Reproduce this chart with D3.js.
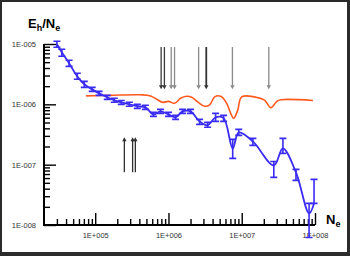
<!DOCTYPE html>
<html>
<head>
<meta charset="utf-8">
<script src="https://cdn.jsdelivr.net/npm/d3@7"></script>
<style>
  body { margin: 0; background: #fff; }
  .tick text { font-family: "Liberation Sans", Arial, sans-serif; font-size: 7.5px; fill: #333; }
</style>
</head>
<body>
<div id="chart"></div>
<script>
// ***** DATA *****
var blueN  = [3.0e4, 3.5e4, 4.4e4, 5.7e4, 7.1e4, 9.1e4, 1.13e5, 1.46e5, 1.82e5, 2.27e5, 2.92e5,
              3.76e5, 4.84e5, 6.23e5, 7.77e5, 1.0e6, 1.25e6, 1.56e6, 2.0e6, 2.66e6, 3.42e6,
              4.4e6, 5.66e6, 7.53e6, 9.1e6, 1.42e7, 2.74e7, 3.65e7, 5.5e7, 8.3e7, 9.7e7];
var blueE  = [9.9e-6, 7.3e-6, 4.8e-6, 2.9e-6, 2.15e-6, 1.77e-6, 1.52e-6, 1.31e-6, 1.16e-6, 1.08e-6, 1.0e-6,
              9.3e-7, 8.9e-7, 6.8e-7, 7.65e-7, 6.8e-7, 6.1e-7, 7.65e-7, 7.65e-7, 5.2e-7, 4.5e-7,
              6.1e-7, 5.9e-7, 1.86e-7, 3.43e-7, 2.43e-7, 9.7e-8, 1.86e-7, 7.45e-8, 1.56e-8, 2.28e-8];
var blueHi = [1.11e-5, 8.17e-6, 5.37e-6, 3.27e-6, 2.4e-6, 1.91e-6, 1.64e-6, 1.41e-6, 1.26e-6, 1.16e-6, 1.08e-6,
              1.0e-6, 9.63e-7, 7.37e-7, 8.26e-7, 7.37e-7, 6.57e-7, 8.26e-7, 8.26e-7, 5.64e-7, 5.03e-7,
              7.09e-7, 6.57e-7, 2.63e-7, 3.85e-7, 2.73e-7, 1.13e-7, 2.73e-7, 8.35e-8, 2.28e-8, 5.71e-8];
var blueLo = [8.81e-6, 6.25e-6, 4.26e-6, 2.6e-6, 1.91e-6, 1.64e-6, 1.41e-6, 1.21e-6, 1.08e-6, 1.0e-6, 9.27e-7,
              8.58e-7, 8.26e-7, 6.32e-7, 7.09e-7, 6.32e-7, 5.64e-7, 7.09e-7, 7.09e-7, 4.66e-7, 4.16e-7,
              5.22e-7, 5.22e-7, 1.27e-7, 3.06e-7, 2.09e-7, 6.16e-8, 1.54e-7, 5.49e-8, 6.2e-9, 2.28e-8];

var orangeN = [7.5e4, 1.6e5, 4.1e5, 5.7e5, 7.1e5, 8.3e5, 1.0e6, 1.21e6, 1.46e6, 1.76e6, 2.07e6, 2.5e6,
               3.11e6, 3.65e6, 4.27e6, 5.15e6, 6.23e6, 7.07e6, 7.77e6, 8.8e6, 1.0e7, 1.71e7,
               2.07e7, 2.5e7, 3.01e7, 3.42e7, 9.4e7];
var orangeE = [1.38e-6, 1.41e-6, 1.44e-6, 1.38e-6, 1.19e-6, 1.08e-6, 1.12e-6, 1.04e-6, 1.26e-6, 1.36e-6, 1.31e-6, 1.1e-6,
               9.3e-7, 9.8e-7, 1.33e-6, 1.36e-6, 1.04e-6, 7.1e-7, 5.86e-7, 7.95e-7, 1.33e-6, 1.28e-6,
               1.16e-6, 8.75e-7, 1.12e-6, 1.19e-6, 1.16e-6];

var downArrowN    = [7.94e5, 8.8e5, 1.09e6, 1.21e6, 2.58e6, 3.28e6, 7.46e6, 2.34e7];
var downArrowKind = ["dark", "dark", "light", "light", "light", "bold", "light", "light"];
var downArrowE    = [8.9e-6, 1.77e-6];   // tail, tip
var upArrowN      = [2.5e5, 3.24e5, 3.53e5];
var upArrowE      = [7.5e-8, 2.84e-7];   // tail, tip

var xMajor = [1e5, 1e6, 1e7, 1e8];
var xTickLabels = ["1E+005", "1E+006", "1E+007", "1E+008"];
var yMajor = [1e-8, 1e-7, 1e-6, 1e-5];
var yTickLabels = ["1E-008", "1E-007", "1E-006", "1E-005"];

// ***** CHART *****
var width = 350, height = 256;

var svg = d3.select("#chart").append("svg")
    .attr("width", width)
    .attr("height", height);

// dark frame round the white panel
svg.append("rect").attr("width", width).attr("height", height).attr("fill", "#2b2b2b");
svg.append("rect").attr("x", 2).attr("y", 2).attr("width", width - 5).attr("height", height - 6).attr("fill", "#fff");

var x = d3.scaleLog().domain([2e4, 1e8]).range([44, 315]);
var y = d3.scaleLog().domain([1e-8, 1e-5]).range([225, 44]);

// minor tick values: 2..9 in every decade
var xMinor = [], yMinor = [];
[1e4, 1e5, 1e6, 1e7].forEach(function(d) {
    for (var k = 2; k <= 9; k++) if (d * k > 2e4) xMinor.push(d * k);
});
[1e-8, 1e-7, 1e-6].forEach(function(d) {
    for (var k = 2; k <= 9; k++) yMinor.push(d * k);
});

// Y axis
svg.append("g")
    .attr("transform", "translate(44,0)")
    .call(d3.axisLeft(y).tickValues(yMinor).tickSize(-6).tickFormat(""))
    .call(function(g) { g.select(".domain").remove(); g.selectAll("line").attr("stroke", "#000").attr("stroke-width", 1.4); });

svg.append("g")
    .attr("transform", "translate(44,0)")
    .call(d3.axisLeft(y).tickValues(yMajor).tickSize(-12).tickPadding(8)
        .tickFormat(function(d, i) { return yTickLabels[i]; }))
    .call(function(g) {
        g.select(".domain").remove();
        g.selectAll("line").attr("stroke", "#000").attr("stroke-width", 1.4);
    });

// X axis
svg.append("g")
    .attr("transform", "translate(0,225)")
    .call(d3.axisBottom(x).tickValues(xMinor).tickSize(-6).tickFormat(""))
    .call(function(g) { g.select(".domain").remove(); g.selectAll("line").attr("stroke", "#000").attr("stroke-width", 1.4); });

svg.append("g")
    .attr("transform", "translate(0,225)")
    .call(d3.axisBottom(x).tickValues(xMajor).tickSize(-12).tickPadding(8)
        .tickFormat(function(d, i) { return xTickLabels[i]; }))
    .call(function(g) {
        g.select(".domain").remove();
        g.selectAll("line").attr("stroke", "#000").attr("stroke-width", 1.4);
    });

// axis lines
svg.append("path")
    .attr("d", "M" + x(2e4) + "," + y(1e-5) + "V" + y(1e-8) + "H" + x(1e8))
    .attr("fill", "none")
    .attr("stroke", "#000")
    .attr("stroke-width", 2);

// axis titles
var yTitle = svg.append("text")
    .attr("x", 28).attr("y", 28)
    .style("font-family", "Liberation Sans, Arial, sans-serif")
    .style("font-weight", "bold")
    .style("font-size", "13px");
yTitle.append("tspan").text("E");
yTitle.append("tspan").attr("dy", 3).style("font-size", "9px").text("h");
yTitle.append("tspan").attr("dy", -3).text("/N");
yTitle.append("tspan").attr("dy", 3).style("font-size", "9px").text("e");

var xTitle = svg.append("text")
    .attr("x", 326).attr("y", 224)
    .style("font-family", "Liberation Sans, Arial, sans-serif")
    .style("font-weight", "bold")
    .style("font-size", "13px");
xTitle.append("tspan").text("N");
xTitle.append("tspan").attr("dy", 3).style("font-size", "9px").text("e");

// orange line
var orange = orangeN.map(function(d, i) { return { n: d, e: orangeE[i] }; });
var line = d3.line()
    .x(function(d) { return x(d.n); })
    .y(function(d) { return y(d.e); })
    .curve(d3.curveCatmullRom.alpha(0.5));

svg.append("path")
    .datum(orange)
    .attr("d", line)
    .attr("fill", "none")
    .attr("stroke", "#ff5a1e")
    .attr("stroke-width", 1.6);

// blue line with error bars
var blue = blueN.map(function(d, i) { return { n: d, e: blueE[i], hi: blueHi[i], lo: blueLo[i] }; });
var blueColor = "#3b2cf2";

svg.append("path")
    .datum(blue)
    .attr("d", line)
    .attr("fill", "none")
    .attr("stroke", blueColor)
    .attr("stroke-width", 1.8);

var err = svg.selectAll(".err")
    .data(blue)
    .enter()
    .append("path")
    .attr("class", "err")
    .attr("d", function(d) {
        var cx = x(d.n), t = y(d.hi), b = y(d.lo);
        return "M" + (cx - 3.5) + "," + t + "H" + (cx + 3.5) +
               "M" + cx + "," + t + "V" + b +
               "M" + (cx - 3.5) + "," + b + "H" + (cx + 3.5);
    })
    .attr("fill", "none")
    .attr("stroke", blueColor)
    .attr("stroke-width", 1.6);

// arrows
var shade = { dark: "#3a3a3a", light: "#8a8a8a", bold: "#333" };

function arrow(xPx, y0, y1, color, w) {
    var dir = y1 > y0 ? 1 : -1;
    var g = svg.append("g");
    g.append("line")
        .attr("x1", xPx).attr("x2", xPx)
        .attr("y1", y0).attr("y2", y1 - dir * 3)
        .attr("stroke", color)
        .attr("stroke-width", w);
    g.append("path")
        .attr("d", "M" + (xPx - 2.2) + "," + (y1 - dir * 4) + "L" + (xPx + 2.2) + "," + (y1 - dir * 4) + "L" + xPx + "," + y1 + "Z")
        .attr("fill", color);
}

downArrowN.forEach(function(d, i) {
    var k = downArrowKind[i];
    arrow(x(d), y(downArrowE[0]), y(downArrowE[1]), shade[k], k === "bold" ? 1.8 : 1.3);
});
upArrowN.forEach(function(d) {
    arrow(x(d), y(upArrowE[0]), y(upArrowE[1]), "#2f2f2f", 1.3);
});
</script>
</body>
</html>
